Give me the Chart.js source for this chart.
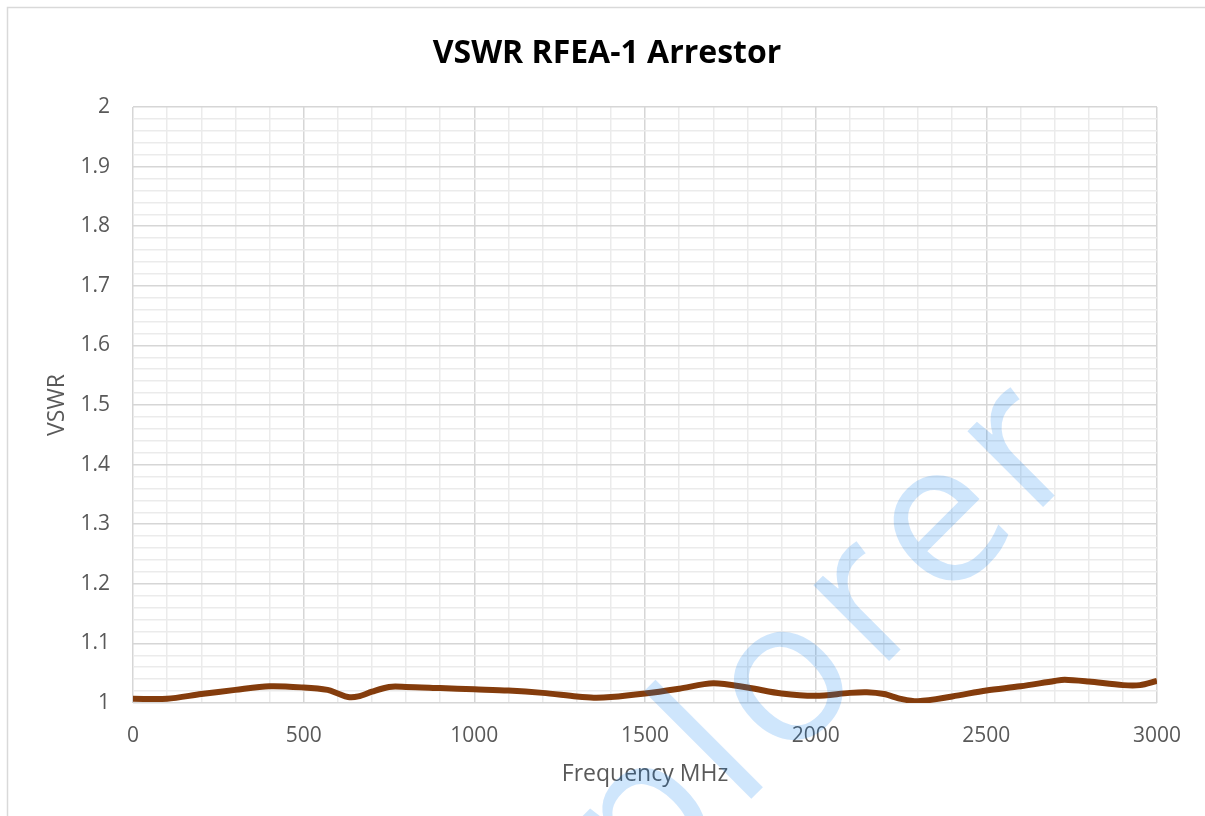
<!DOCTYPE html>
<html>
<head>
<meta charset="utf-8">
<script src="https://cdn.jsdelivr.net/npm/chart.js@4"></script>
<style>
  html, body { margin: 0; padding: 0; background: #fff; }
  #wrap { width: 1205px; height: 816px; }
</style>
</head>
<body>
<div id="wrap"><canvas id="chart"></canvas></div>
<script>
// =============================
// DATOS
// =============================
const freqMHz = [0, 100, 200, 300, 400, 500, 570, 600, 630, 660, 700, 750, 800, 900, 1000,
  1100, 1200, 1300, 1350, 1400, 1500, 1600, 1700, 1800, 1900, 2000, 2100, 2150, 2200,
  2250, 2300, 2400, 2500, 2600, 2700, 2730, 2800, 2900, 2950, 3000];
const vswr = [1.007, 1.007, 1.015, 1.022, 1.028, 1.026, 1.022, 1.016, 1.010, 1.011, 1.019, 1.027, 1.027, 1.025, 1.023,
  1.021, 1.017, 1.011, 1.009, 1.010, 1.016, 1.024, 1.033, 1.026, 1.016, 1.012, 1.017, 1.018, 1.015,
  1.007, 1.003, 1.011, 1.021, 1.028, 1.037, 1.039, 1.036, 1.030, 1.030, 1.037];

const xTicks = [0, 500, 1000, 1500, 2000, 2500, 3000];
const yTicks = [1, 1.1, 1.2, 1.3, 1.4, 1.5, 1.6, 1.7, 1.8, 1.9, 2];

const majorGrid = "#d6d6d6";
const minorGrid = "#ebebeb";
const textGrey = "#595959";

const isMajorY = (v) => yTicks.some((t) => Math.abs(t - v) < 1e-6);

// marco exterior + marca de agua
const framePlugin = {
  id: "frame",
  beforeDraw(chart) {
    const ctx = chart.ctx;
    ctx.save();
    ctx.strokeStyle = "#d9d9d9";
    ctx.lineWidth = 1.5;
    ctx.beginPath();
    ctx.moveTo(7.5, 830);
    ctx.lineTo(7.5, 7.5);
    ctx.lineTo(1220, 7.5);
    ctx.stroke();
    ctx.restore();
  },
  afterDatasetsDraw(chart) {
    const ctx = chart.ctx;
    ctx.save();
    ctx.translate(786, 764);
    ctx.rotate(-Math.PI / 4);
    ctx.font = '200px "Open Sans"';
    ctx.letterSpacing = "12px";
    ctx.textAlign = "center";
    ctx.textBaseline = "alphabetic";
    ctx.fillStyle = "rgba(0, 120, 240, 0.19)";
    ctx.fillText("Explorer", 0, 0);
    ctx.restore();
  },
};

new Chart(document.getElementById("chart"), {
  type: "line",
  data: {
    datasets: [
      {
        label: "VSWR",
        data: freqMHz.map((f, i) => ({ x: f, y: vswr[i] })),
        borderColor: "#843c0c",
        borderWidth: 6,
        pointRadius: 0,
        tension: 0.3,
        fill: false,
      },
    ],
  },
  options: {
    responsive: true,
    maintainAspectRatio: false,
    animation: false,
    layout: { padding: { left: 9, right: 0, top: 0, bottom: 0 } },
    plugins: {
      legend: { display: false },
      tooltip: { enabled: false },
      title: {
        display: true,
        text: "VSWR RFEA-1 Arrestor",
        color: "#000",
        font: { family: '"Open Sans"', size: 32, weight: "bold" },
        padding: { top: 35, bottom: 33.6 },
      },
    },
    scales: {
      x: {
        type: "linear",
        min: 0,
        max: 3000,
        afterBuildTicks: (scale) => {
          const t = [];
          for (let v = 0; v <= 3000; v += 100) t.push({ value: v });
          scale.ticks = t;
        },
        afterFit: (scale) => { scale.height = 113; },
        border: { display: false },
        grid: {
          drawTicks: false,
          color: (c) => (c.tick && xTicks.includes(c.tick.value) ? majorGrid : minorGrid),
          lineWidth: 1.5,
        },
        ticks: {
          autoSkip: false,
          maxRotation: 0,
          padding: 20,
          color: textGrey,
          font: { family: '"Open Sans"', size: 21 },
          callback: (v) => (xTicks.includes(v) ? String(v) : ""),
        },
        title: {
          display: true,
          text: "Frequency MHz",
          color: textGrey,
          font: { family: '"Open Sans"', size: 23 },
          padding: { top: 0, bottom: 28 },
        },
      },
      y: {
        min: 1,
        max: 2,
        afterBuildTicks: (scale) => {
          const t = [];
          for (let i = 0; i <= 50; i++) t.push({ value: 1 + i * 0.02 });
          scale.ticks = t;
        },
        afterFit: (scale) => { scale.width = 124; },
        border: { display: false },
        grid: {
          drawTicks: false,
          color: (c) => (c.tick && isMajorY(c.tick.value) ? majorGrid : minorGrid),
          lineWidth: 1.5,
        },
        ticks: {
          autoSkip: false,
          padding: 23,
          color: textGrey,
          font: { family: '"Open Sans"', size: 21 },
          callback: (v) => (isMajorY(v) ? String(Math.round(v * 10) / 10) : ""),
        },
        title: {
          display: true,
          text: "VSWR",
          color: textGrey,
          font: { family: '"Open Sans"', size: 23 },
          padding: { top: 35, bottom: 0 },
        },
      },
      // eje vacío a la derecha, solo para reservar el margen
      yRight: {
        position: "right",
        min: 0,
        max: 1,
        afterFit: (scale) => { scale.width = 48; },
        border: { display: false },
        grid: { display: false },
        ticks: { display: false },
      },
    },
  },
  plugins: [framePlugin],
});
</script>
</body>
</html>
